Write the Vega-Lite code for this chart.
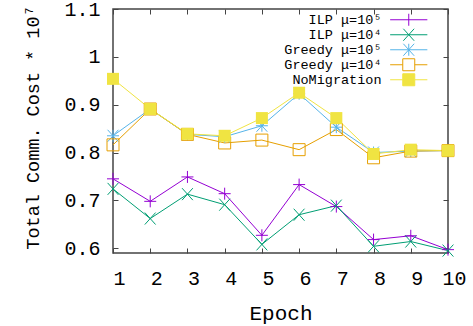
{
  "$schema": "https://vega.github.io/schema/vega-lite/v6.json",
  "width": 335,
  "height": 244,
  "autosize": {"type": "none"},
  "padding": {"left": 113, "top": 9, "right": 25, "bottom": 73},
  "background": "white",
  "config": {
    "view": {"stroke": "#444", "strokeWidth": 1.5},
    "font": "Liberation Mono",
    "axis": {"grid": false, "domain": false, "labelFlush": false, "labelOverlap": false, "labelFont": "Liberation Mono", "titleFont": "Liberation Mono", "labelColor": "#000", "titleColor": "#000", "titleFontWeight": "normal", "tickColor": "#444", "tickSize": -5, "tickWidth": 1},
    "legend": {"labelFont": "Liberation Mono", "labelColor": "#000"},
    "point": {"filled": false, "size": 144, "strokeWidth": 1, "opacity": 1}
  },
  "data": {
    "values": [
      {"epoch": 1, "series": "ILP μ=10⁵", "cost": 0.745},
      {"epoch": 2, "series": "ILP μ=10⁵", "cost": 0.698},
      {"epoch": 3, "series": "ILP μ=10⁵", "cost": 0.749},
      {"epoch": 4, "series": "ILP μ=10⁵", "cost": 0.714},
      {"epoch": 5, "series": "ILP μ=10⁵", "cost": 0.627},
      {"epoch": 6, "series": "ILP μ=10⁵", "cost": 0.733},
      {"epoch": 7, "series": "ILP μ=10⁵", "cost": 0.687},
      {"epoch": 8, "series": "ILP μ=10⁵", "cost": 0.618},
      {"epoch": 9, "series": "ILP μ=10⁵", "cost": 0.626},
      {"epoch": 10, "series": "ILP μ=10⁵", "cost": 0.597},
      {"epoch": 1, "series": "ILP μ=10⁴", "cost": 0.724},
      {"epoch": 2, "series": "ILP μ=10⁴", "cost": 0.662},
      {"epoch": 3, "series": "ILP μ=10⁴", "cost": 0.713},
      {"epoch": 4, "series": "ILP μ=10⁴", "cost": 0.691},
      {"epoch": 5, "series": "ILP μ=10⁴", "cost": 0.608},
      {"epoch": 6, "series": "ILP μ=10⁴", "cost": 0.670},
      {"epoch": 7, "series": "ILP μ=10⁴", "cost": 0.689},
      {"epoch": 8, "series": "ILP μ=10⁴", "cost": 0.604},
      {"epoch": 9, "series": "ILP μ=10⁴", "cost": 0.614},
      {"epoch": 10, "series": "ILP μ=10⁴", "cost": 0.595},
      {"epoch": 1, "series": "Greedy μ=10⁵", "cost": 0.835},
      {"epoch": 2, "series": "Greedy μ=10⁵", "cost": 0.891},
      {"epoch": 3, "series": "Greedy μ=10⁵", "cost": 0.838},
      {"epoch": 4, "series": "Greedy μ=10⁵", "cost": 0.833},
      {"epoch": 5, "series": "Greedy μ=10⁵", "cost": 0.856},
      {"epoch": 6, "series": "Greedy μ=10⁵", "cost": 0.923},
      {"epoch": 7, "series": "Greedy μ=10⁵", "cost": 0.853},
      {"epoch": 8, "series": "Greedy μ=10⁵", "cost": 0.800},
      {"epoch": 9, "series": "Greedy μ=10⁵", "cost": 0.803},
      {"epoch": 10, "series": "Greedy μ=10⁵", "cost": 0.804},
      {"epoch": 1, "series": "Greedy μ=10⁴", "cost": 0.816},
      {"epoch": 2, "series": "Greedy μ=10⁴", "cost": 0.891},
      {"epoch": 3, "series": "Greedy μ=10⁴", "cost": 0.838},
      {"epoch": 4, "series": "Greedy μ=10⁴", "cost": 0.820},
      {"epoch": 5, "series": "Greedy μ=10⁴", "cost": 0.826},
      {"epoch": 6, "series": "Greedy μ=10⁴", "cost": 0.806},
      {"epoch": 7, "series": "Greedy μ=10⁴", "cost": 0.848},
      {"epoch": 8, "series": "Greedy μ=10⁴", "cost": 0.789},
      {"epoch": 9, "series": "Greedy μ=10⁴", "cost": 0.803},
      {"epoch": 10, "series": "Greedy μ=10⁴", "cost": 0.804},
      {"epoch": 1, "series": "NoMigration", "cost": 0.954},
      {"epoch": 2, "series": "NoMigration", "cost": 0.891},
      {"epoch": 3, "series": "NoMigration", "cost": 0.839},
      {"epoch": 4, "series": "NoMigration", "cost": 0.835},
      {"epoch": 5, "series": "NoMigration", "cost": 0.872},
      {"epoch": 6, "series": "NoMigration", "cost": 0.925},
      {"epoch": 7, "series": "NoMigration", "cost": 0.872},
      {"epoch": 8, "series": "NoMigration", "cost": 0.797},
      {"epoch": 9, "series": "NoMigration", "cost": 0.806},
      {"epoch": 10, "series": "NoMigration", "cost": 0.804}
    ]
  },
  "resolve": {"axis": {"x": "independent", "y": "independent"}},
  "layer": [
    {
      "mark": {"type": "line", "strokeWidth": 1},
      "encoding": {
        "x": {"field": "epoch", "type": "quantitative", "scale": {"domain": [1, 10], "nice": false, "zero": false},
          "axis": {"orient": "bottom", "values": [1,2,3,4,5,6,7,8,9,10], "title": "Epoch", "labelFontSize": 20, "labelPadding": 20, "labelOffset": 6, "titleFontSize": 21, "titleX": 167.5, "titleY": 60, "titleBaseline": "middle", "titleAlign": "center"}},
        "y": {"field": "cost", "type": "quantitative", "scale": {"domain": [0.59, 1.1], "nice": false, "zero": false},
          "axis": {"orient": "left", "values": [0.6, 0.7, 0.8, 0.9, 1.0, 1.1], "labelExpr": "format(datum.value, '~g')", "labelFontSize": 20, "labelPadding": 18, "title": "Total Comm. Cost * 10⁷", "titleFontSize": 18.5, "titleAngle": -90, "titleX": -81, "titleY": 118, "titleBaseline": "middle", "titleAlign": "center"}},
        "color": {"field": "series", "type": "nominal",
          "scale": {"domain": ["ILP μ=10⁵", "ILP μ=10⁴", "Greedy μ=10⁵", "Greedy μ=10⁴", "NoMigration"], "range": ["#9400d3", "#009e73", "#56b4e9", "#e69f00", "#f0e442"]},
          "legend": {
            "title": null, "orient": "none", "legendX": 289, "legendY": 4,
            "labelAlign": "right", "labelOffset": -34, "labelFontSize": 13.5, "labelBaseline": "middle",
            "symbolSize": 144, "symbolOffset": 0, "rowPadding": -2.5, "symbolStrokeWidth": 1,
            "symbolType": {"expr": "datum.value === 'ILP μ=10⁵' ? 'M-3.1,0H3.1M0,-1V1' : datum.value === 'ILP μ=10⁴' ? 'M-3.1,0H3.1M-0.9,-1L0.9,1M-0.9,1L0.9,-1' : datum.value === 'Greedy μ=10⁵' ? 'M-3.1,0H3.1M0,-1V1M-0.9,-1L0.9,1M-0.9,1L0.9,-1' : 'M-3.1,0H-1M1,0H3.1M-1,-1H1V1H-1Z'"},
            "symbolFillColor": {"expr": "datum.value === 'NoMigration' ? '#f0e442' : 'transparent'"}
          }}
      }
    },
    {
      "transform": [{"filter": "datum.series === 'ILP μ=10⁵'"}],
      "mark": {"type": "point", "shape": "M-1,0H1M0,-1V1", "color": "#9400d3"},
      "encoding": {
        "x": {"field": "epoch", "type": "quantitative", "axis": {"orient": "top", "values": [1,2,3,4,5,6,7,8,9,10], "labels": false, "title": null}},
        "y": {"field": "cost", "type": "quantitative", "axis": {"orient": "right", "values": [0.6, 0.7, 0.8, 0.9, 1.0, 1.1], "labels": false, "title": null}}
      }
    },
    {
      "transform": [{"filter": "datum.series === 'ILP μ=10⁴'"}],
      "mark": {"type": "point", "shape": "M-0.9,-1L0.9,1M-0.9,1L0.9,-1", "color": "#009e73"},
      "encoding": {
        "x": {"field": "epoch", "type": "quantitative", "axis": null},
        "y": {"field": "cost", "type": "quantitative", "axis": null}
      }
    },
    {
      "transform": [{"filter": "datum.series === 'Greedy μ=10⁵'"}],
      "mark": {"type": "point", "shape": "M-1,0H1M0,-1V1M-0.9,-1L0.9,1M-0.9,1L0.9,-1", "color": "#56b4e9"},
      "encoding": {
        "x": {"field": "epoch", "type": "quantitative", "axis": null},
        "y": {"field": "cost", "type": "quantitative", "axis": null}
      }
    },
    {
      "transform": [{"filter": "datum.series === 'Greedy μ=10⁴'"}],
      "mark": {"type": "point", "shape": "square", "color": "#e69f00"},
      "encoding": {
        "x": {"field": "epoch", "type": "quantitative", "axis": null},
        "y": {"field": "cost", "type": "quantitative", "axis": null}
      }
    },
    {
      "transform": [{"filter": "datum.series === 'NoMigration'"}],
      "mark": {"type": "point", "shape": "square", "filled": true, "color": "#f0e442", "opacity": 1},
      "encoding": {
        "x": {"field": "epoch", "type": "quantitative", "axis": null},
        "y": {"field": "cost", "type": "quantitative", "axis": null}
      }
    }
  ]
}
